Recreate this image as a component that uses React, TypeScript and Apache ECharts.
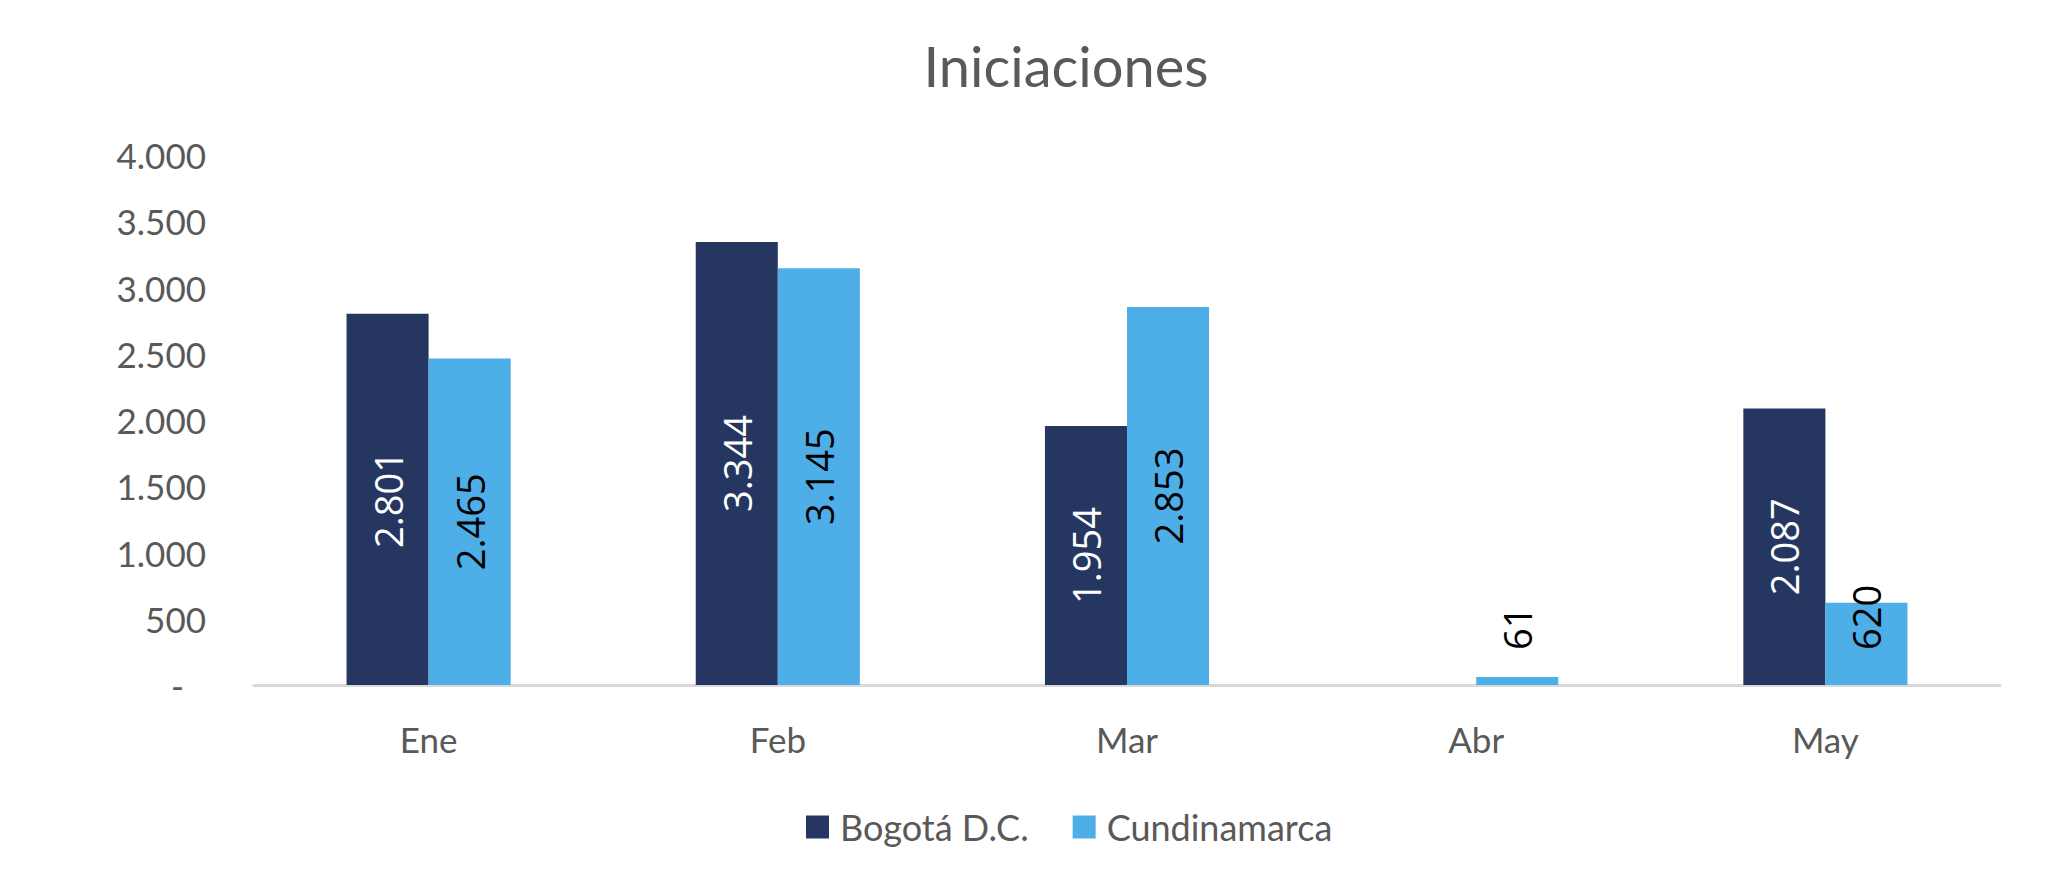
import React, { useEffect, useRef } from "react";
import * as echarts from "echarts";

const categories = ["Ene", "Feb", "Mar", "Abr", "May"];
const seriesNames = ["Bogotá D.C.", "Cundinamarca"];
const bogota: (number | null)[] = [2801, 3344, 1954, null, 2087];
const cundinamarca: (number | null)[] = [2465, 3145, 2853, 61, 620];
const yTickLabels = ["-", "500", "1.000", "1.500", "2.000", "2.500", "3.000", "3.500", "4.000"];
const chartTitle = "Iniciaciones";

const DARK = "#253761";
const LIGHT = "#4DAEE8";
const GREY = "#595959";

const fmt = (v: number) => String(v).replace(/\B(?=(\d{3})+(?!\d))/g, ".");

function buildData(values: (number | null)[], textColor: string) {
  return values.map((v) => {
    if (v === null) return { value: null, label: { show: false } };
    const small = v < 1000;
    return {
      value: v,
      label: small
        ? {
            show: true,
            position: "insideBottom",
            distance: 35,
            rotate: 90,
            align: "left",
            verticalAlign: "middle",
            color: "#000000",
          }
        : {
            show: true,
            position: "inside",
            rotate: 90,
            align: "center",
            verticalAlign: "middle",
            color: textColor,
          },
    };
  });
}

export default function App() {
  const ref = useRef<HTMLDivElement>(null);
  useEffect(() => {
    document.body.style.margin = "0";
    if (!ref.current) return;
    const chart = echarts.init(ref.current, null, { renderer: "svg" });
    const labelBase = {
      fontFamily: "Open Sans",
      fontSize: 38,
      formatter: (p: any) => fmt(p.value),
    };
    chart.setOption({
      animation: false,
      backgroundColor: "#ffffff",
      graphic: [
        {
          type: "text",
          x: 1066,
          y: 65,
          style: {
            text: chartTitle,
            fontFamily: "Lato",
            fontSize: 56,
            fill: GREY,
            textAlign: "center",
            textVerticalAlign: "middle",
          },
        },
      ],
      legend: {
        left: 801,
        top: 804,
        itemWidth: 23,
        itemHeight: 23,
        itemGap: 44,
        icon: "rect",
        data: seriesNames,
        textStyle: {
          fontFamily: "Lato",
          fontSize: 36,
          color: GREY,
          padding: [0, 0, 0, 6],
        },
      },
      grid: { left: 254, right: 46, top: 155, bottom: 203, containLabel: false },
      xAxis: {
        type: "category",
        data: categories,
        axisLine: { lineStyle: { color: "#D9D9D9", width: 3 } },
        axisTick: { show: false },
        axisLabel: { fontFamily: "Lato", fontSize: 35, color: GREY, margin: 36 },
      },
      yAxis: {
        type: "value",
        min: 0,
        max: 4000,
        interval: 500,
        axisLine: { show: false },
        axisTick: { show: false },
        splitLine: { show: false },
        axisLabel: {
          fontFamily: "Lato",
          fontSize: 35,
          color: GREY,
          margin: 48,
          formatter: (_v: number, i: number) =>
            i === 0 ? "{d|" + yTickLabels[i] + "}" : yTickLabels[i],
          rich: { d: { fontFamily: "Lato", fontSize: 35, color: GREY, padding: [0, 22, 0, 0] } },
        },
      },
      series: [
        {
          name: seriesNames[0],
          type: "bar",
          barGap: "0%",
          barCategoryGap: "53%",
          itemStyle: { color: DARK },
          label: { ...labelBase, color: "#ffffff" },
          data: buildData(bogota, "#ffffff"),
        },
        {
          name: seriesNames[1],
          type: "bar",
          barGap: "0%",
          barCategoryGap: "53%",
          itemStyle: { color: LIGHT },
          label: { ...labelBase, color: "#000000" },
          data: buildData(cundinamarca, "#000000"),
        },
      ],
    });
    return () => chart.dispose();
  }, []);
  return <div ref={ref} style={{ width: 2046, height: 888 }} />;
}
